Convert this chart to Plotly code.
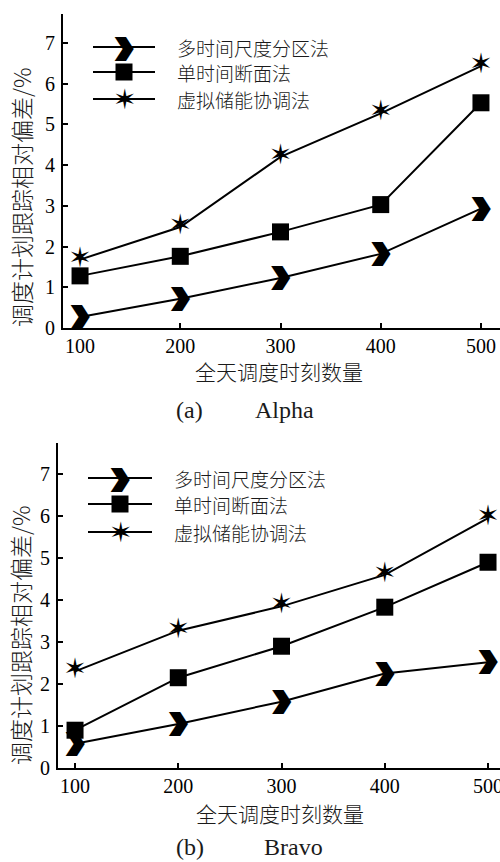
import plotly.graph_objects as go

# ---------------- data ----------------
x_counts = [100, 200, 300, 400, 500]
alpha_multi = [0.27, 0.72, 1.23, 1.82, 2.93]
alpha_single = [1.28, 1.76, 2.36, 3.03, 5.53]
alpha_virtual = [1.68, 2.48, 4.20, 5.27, 6.43]
bravo_multi = [0.58, 1.05, 1.58, 2.25, 2.52]
bravo_single = [0.90, 2.15, 2.90, 3.83, 4.90]
bravo_virtual = [2.30, 3.27, 3.85, 4.60, 5.95]
series_names = ["多时间尺度分区法", "单时间断面法", "虚拟储能协调法"]
x_title = "全天调度时刻数量"
y_title = "调度计划跟踪相对偏差/%"
x_ticks = [100, 200, 300, 400, 500]
y_ticks = [0, 1, 2, 3, 4, 5, 6, 7]
caption_tags = ["(a)", "(b)"]
caption_names = ["Alpha", "Bravo"]

W, H = 500, 862
def px(x):
    return x / W
def py(y):
    return 1 - y / H

CJK = "Noto Sans CJK SC"
SERIF = "Liberation Serif"
GLYPH = "DejaVu Sans"
CHEV = "\u276F"
STAR = "\u2736"

# heavy angle glyph, widened horizontally with a text shadow
CHEV_FONT = dict(family=GLYPH, size=24, color="black",
                 shadow="-3px 0px 0px #000, -1.5px 0px 0px #000, 1.5px 0px 0px #000, 3px 0px 0px #000")
STAR_FONT = dict(family=GLYPH, size=28, color="black")
SQ_SIZE = 17

fig = go.Figure()

panels = [
    dict(xa="x", ya="y", multi=alpha_multi, single=alpha_single, virtual=alpha_virtual),
    dict(xa="x2", ya="y2", multi=bravo_multi, single=bravo_single, virtual=bravo_virtual),
]

annotations = []
shapes = []

for p in panels:
    for vals in (p["multi"], p["single"], p["virtual"]):
        fig.add_trace(go.Scatter(x=x_counts, y=vals, mode="lines",
                                 line=dict(color="black", width=2),
                                 xaxis=p["xa"], yaxis=p["ya"], showlegend=False,
                                 hoverinfo="skip"))
    fig.add_trace(go.Scatter(x=x_counts, y=p["single"], mode="markers",
                             marker=dict(symbol="square", size=SQ_SIZE, color="black"),
                             xaxis=p["xa"], yaxis=p["ya"], showlegend=False))
    fig.add_trace(go.Scatter(x=x_counts, y=p["virtual"], mode="text",
                             text=[STAR] * len(x_counts), textposition="middle center",
                             textfont=STAR_FONT,
                             xaxis=p["xa"], yaxis=p["ya"], showlegend=False))
    fig.add_trace(go.Scatter(x=x_counts, y=p["multi"], mode="text",
                             text=[CHEV] * len(x_counts), textposition="middle center",
                             textfont=CHEV_FONT,
                             xaxis=p["xa"], yaxis=p["ya"], showlegend=False))

axis_common = dict(showline=True, linecolor="black", linewidth=2, ticks="inside",
                   ticklen=5, tickwidth=1.5, tickcolor="black", showgrid=False,
                   zeroline=False, tickfont=dict(family=SERIF, size=20, color="black"),
                   ticklabeloverflow="allow", automargin=False)

fig.update_layout(
    width=W, height=H,
    margin=dict(l=0, r=0, t=0, b=0),
    paper_bgcolor="white", plot_bgcolor="white",
    showlegend=False,
    xaxis=dict(axis_common, domain=[px(63), 1], range=[83, 519], tickvals=x_ticks,
               anchor="y", ticklabelstandoff=-1),
    yaxis=dict(axis_common, domain=[py(328), py(14)], range=[0, 7.71], tickvals=y_ticks,
               anchor="x", ticklabelstandoff=2),
    xaxis2=dict(axis_common, domain=[px(58), 1], range=[83.5, 511.6], tickvals=x_ticks,
                anchor="y2", ticklabelstandoff=-1),
    yaxis2=dict(axis_common, domain=[py(768), py(443)], range=[0, 7.74], tickvals=y_ticks,
                anchor="x2", ticklabelstandoff=2),
)

panel_layout = [
    dict(ytx=21, yty=197, xtx=279, xty=371, cy=410, tagx=189, namex=284,
         leg_x0=93, leg_x1=155, leg_mx=124, leg_tx=175, leg_rows=[47, 72, 99]),
    dict(ytx=20, yty=635, xtx=280, xty=813, cy=847, tagx=190, namex=293,
         leg_x0=88, leg_x1=152, leg_mx=120, leg_tx=172, leg_rows=[478, 504, 532]),
]

for i, L in enumerate(panel_layout):
    annotations.append(dict(text=y_title, x=px(L["ytx"]), y=py(L["yty"]), xref="paper",
                            yref="paper", showarrow=False, textangle=-90,
                            xanchor="center", yanchor="middle",
                            font=dict(family=CJK, size=23, color="#1a1a1a", weight=300)))
    annotations.append(dict(text=x_title, x=px(L["xtx"]), y=py(L["xty"]), xref="paper",
                            yref="paper", showarrow=False, xanchor="center", yanchor="middle",
                            font=dict(family=CJK, size=21, color="#1a1a1a", weight=300)))
    annotations.append(dict(text=caption_tags[i], x=px(L["tagx"]), y=py(L["cy"]), xref="paper",
                            yref="paper", showarrow=False, xanchor="center", yanchor="middle",
                            font=dict(family=SERIF, size=24, color="#1a1a1a")))
    annotations.append(dict(text=caption_names[i], x=px(L["namex"]), y=py(L["cy"]), xref="paper",
                            yref="paper", showarrow=False, xanchor="center", yanchor="middle",
                            font=dict(family=SERIF, size=24, color="#1a1a1a")))
    for j, row in enumerate(L["leg_rows"]):
        shapes.append(dict(type="line", xref="paper", yref="paper",
                           x0=px(L["leg_x0"]), x1=px(L["leg_x1"]), y0=py(row), y1=py(row),
                           line=dict(color="black", width=2)))
        if j == 1:
            half = SQ_SIZE / 2
            shapes.append(dict(type="rect", xref="paper", yref="paper",
                               x0=px(L["leg_mx"] - half), x1=px(L["leg_mx"] + half),
                               y0=py(row + half), y1=py(row - half),
                               fillcolor="black", line=dict(width=0)))
        else:
            annotations.append(dict(text=CHEV if j == 0 else STAR, x=px(L["leg_mx"]),
                                    y=py(row), xref="paper", yref="paper", showarrow=False,
                                    xanchor="center", yanchor="middle",
                                    font=CHEV_FONT if j == 0 else STAR_FONT))
        annotations.append(dict(text=series_names[j], x=px(L["leg_tx"]), y=py(row), xref="paper",
                                yref="paper", showarrow=False, xanchor="left", yanchor="middle",
                                font=dict(family=CJK, size=19, color="#1a1a1a", weight=300)))

fig.update_layout(annotations=annotations, shapes=shapes)

fig.write_html("out.html", config={"displayModeBar": False},
               post_script="document.body.style.margin='0';document.body.style.overflow='hidden';")
